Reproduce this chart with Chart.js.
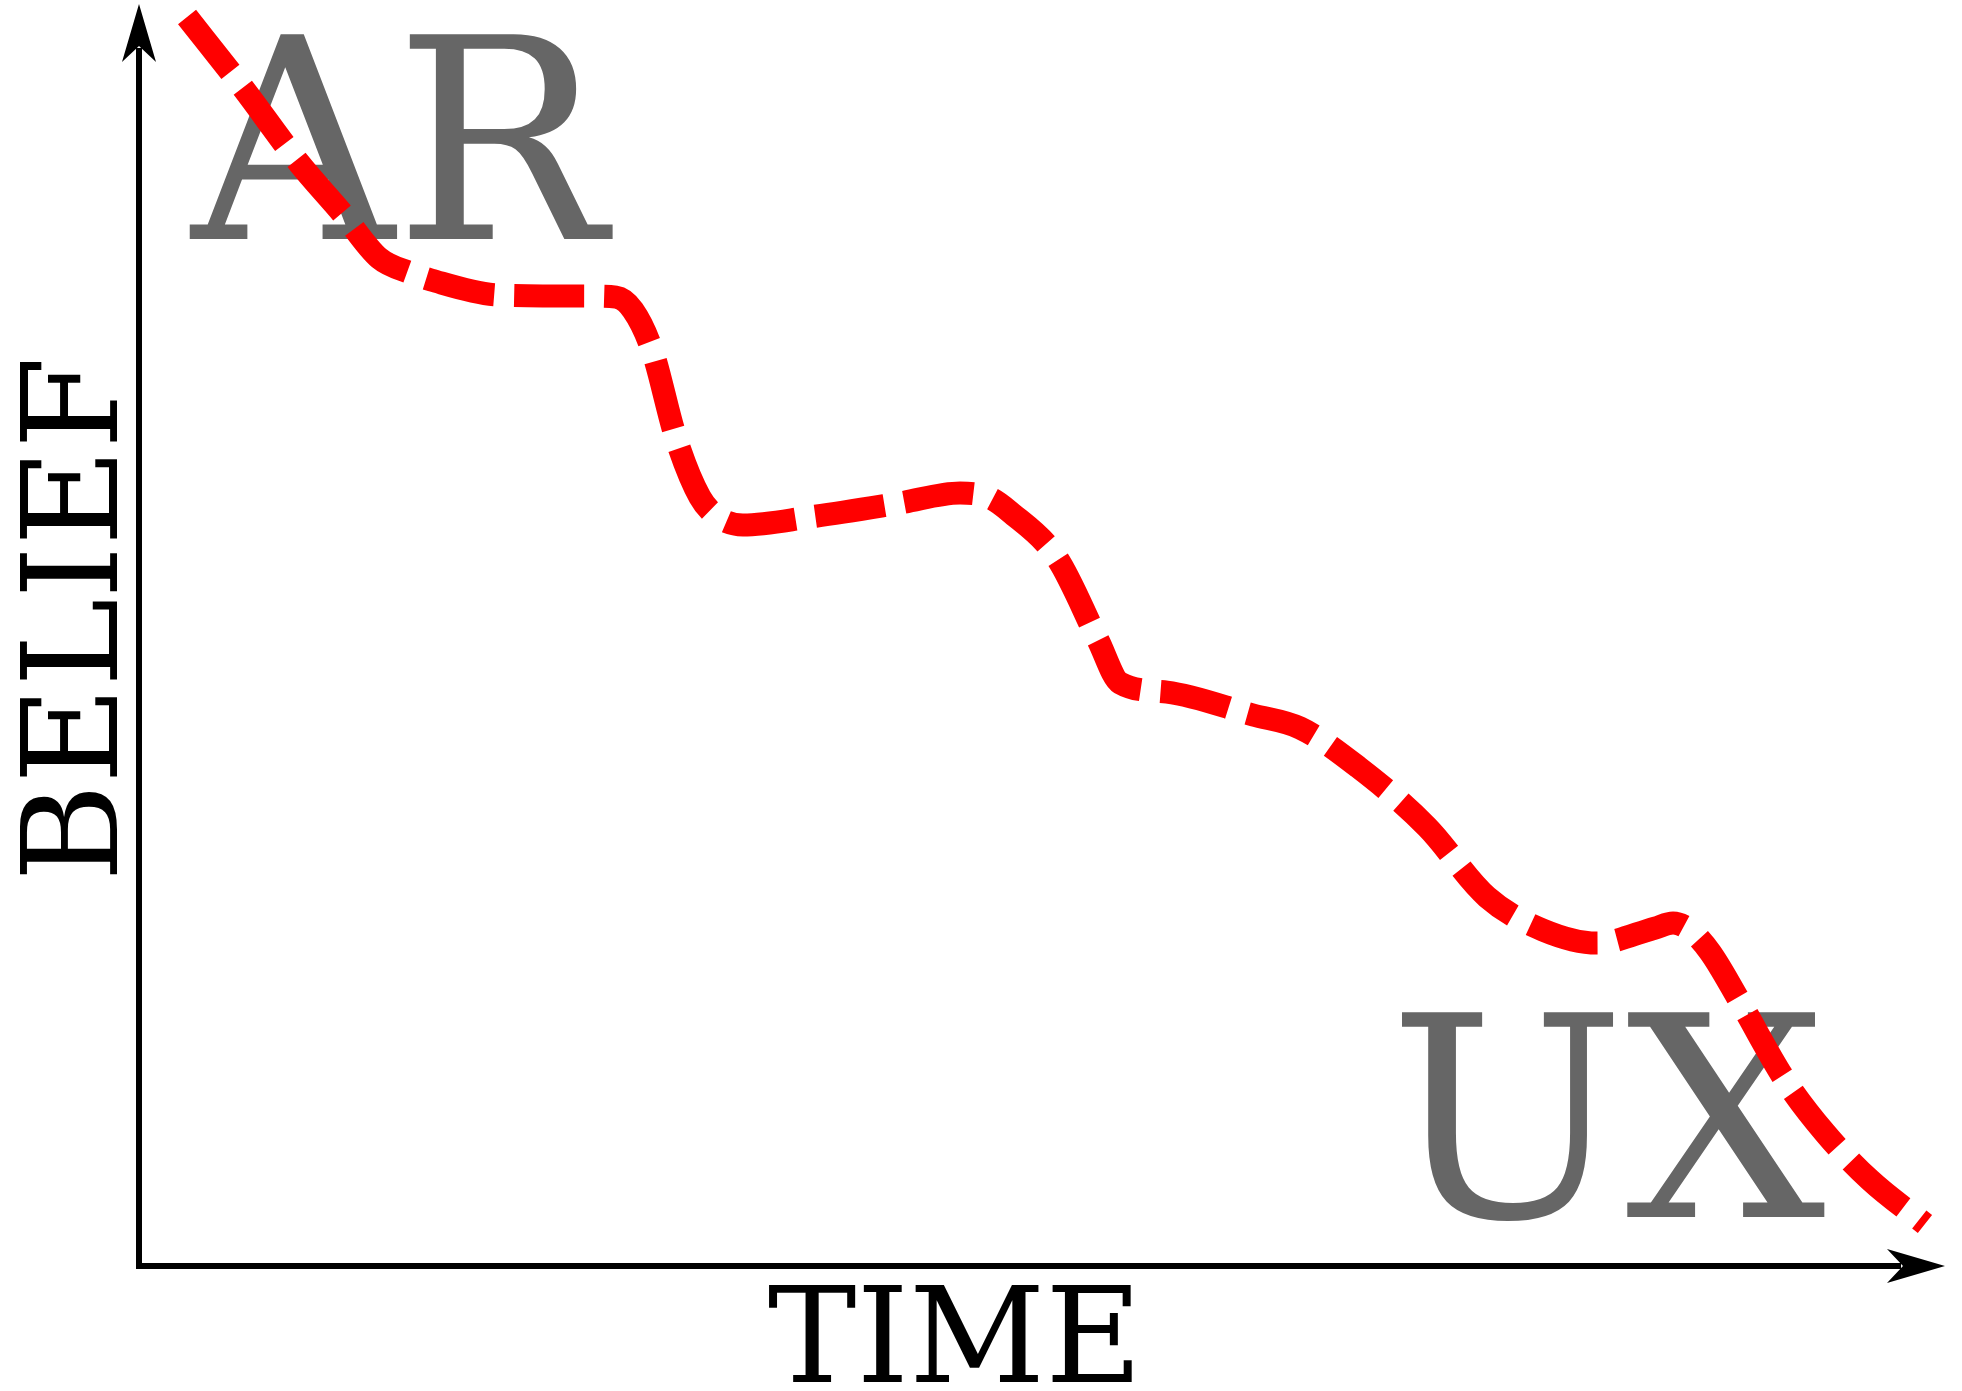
<!DOCTYPE html>
<html>
<head>
<meta charset="utf-8">
<title>Belief over time</title>
<script src="https://cdn.jsdelivr.net/npm/chart.js@4.4.1/dist/chart.umd.min.js"></script>
<style>
  html, body { margin: 0; padding: 0; background: #fff; }
  #wrap { width: 1962px; height: 1391px; }
</style>
</head>
<body>
<div id="wrap"><canvas id="beliefChart" width="1962" height="1391"></canvas></div>
<script>
// curve, both axes on a 0..100 scale
const timeValues = [2.66, 5.76, 8.86, 11.24, 13.29, 15.06, 16.17, 19.99, 25.14, 26.41,
  27.35, 28.41, 29.73, 31.06, 32.06, 33.44, 37.15, 42.14, 45.46, 47.12,
  48.23, 50.83, 53.10, 54.32, 56.92, 61.68, 64.29, 67.50, 71.32, 74.64,
  77.74, 80.73, 83.94, 84.94, 85.88, 86.99, 88.59, 91.14, 93.36, 95.85, 98.89];
const beliefValues = [98.97, 93.34, 87.40, 83.44, 79.87, 78.68, 78.13, 76.94, 76.86, 76.78,
  75.75, 72.58, 65.61, 60.93, 59.35, 58.72, 59.35, 60.46, 61.25, 60.86,
  59.75, 56.10, 49.60, 46.20, 45.48, 43.66, 42.63, 39.54, 34.79, 29.24,
  26.62, 25.59, 26.78, 27.18, 26.62, 24.88, 21.08, 14.74, 10.54, 6.81, 3.33];

const axisTitles = { x: 'TIME', y: 'BELIEF' };
const cornerLabels = ['AR', 'UX'];

const points = timeValues.map((t, i) => ({ x: t, y: beliefValues[i] }));

function arrowHead(ctx, tipX, tipY, dirX, dirY) {
  // swept-back arrow: 58 long, 17 half-width, notch 42 from tip
  const px = -dirY, py = dirX;
  ctx.beginPath();
  ctx.moveTo(tipX, tipY);
  ctx.lineTo(tipX - dirX * 58 + px * 17, tipY - dirY * 58 + py * 17);
  ctx.lineTo(tipX - dirX * 42, tipY - dirY * 42);
  ctx.lineTo(tipX - dirX * 58 - px * 17, tipY - dirY * 58 - py * 17);
  ctx.closePath();
  ctx.fill();
}

const decorPlugin = {
  id: 'decor',
  beforeDatasetsDraw(chart) {
    const ctx = chart.ctx;
    const xs = chart.scales.x, ys = chart.scales.y;
    const x0 = xs.getPixelForValue(0), x1 = xs.getPixelForValue(100);
    const y0 = ys.getPixelForValue(0), y1 = ys.getPixelForValue(100);
    ctx.save();

    // big grey labels sit under the curve
    ctx.fillStyle = '#666666';
    ctx.font = '281px "DejaVu Serif"';
    ctx.textBaseline = 'alphabetic';
    ctx.textAlign = 'left';
    let m = ctx.measureText(cornerLabels[0]);
    ctx.fillText(cornerLabels[0], 187 + m.actualBoundingBoxLeft, 239);
    m = ctx.measureText(cornerLabels[1]);
    ctx.fillText(cornerLabels[1], 1402 + m.actualBoundingBoxLeft, 1217);

    // axes with arrows
    ctx.strokeStyle = '#000';
    ctx.fillStyle = '#000';
    ctx.lineWidth = 6;
    ctx.beginPath();
    ctx.moveTo(x0, y0);
    ctx.lineTo(x0, y1 + 44);
    ctx.moveTo(x0 - 3, y0);
    ctx.lineTo(x1 - 44, y0);
    ctx.stroke();
    arrowHead(ctx, x0, y1, 0, -1);
    arrowHead(ctx, x1, y0, 1, 0);

    // axis titles
    ctx.font = '133px "DejaVu Serif"';
    ctx.textAlign = 'center';
    ctx.fillText(axisTitles.x, 955, 1382);
    ctx.translate(117, 619);
    ctx.rotate(-Math.PI / 2);
    ctx.fillText(axisTitles.y, 0, 0);
    ctx.restore();
  }
};

new Chart(document.getElementById('beliefChart').getContext('2d'), {
  type: 'line',
  data: {
    datasets: [{
      data: points,
      borderColor: '#ff0000',
      borderWidth: 23,
      borderDash: [70, 20],
      borderCapStyle: 'butt',
      borderJoinStyle: 'round',
      cubicInterpolationMode: 'monotone',
      pointRadius: 0,
      fill: false,
      clip: false
    }]
  },
  options: {
    responsive: false,
    animation: false,
    devicePixelRatio: 1,
    layout: { padding: { left: 139, right: 17, top: 4, bottom: 125 } },
    plugins: { legend: { display: false }, tooltip: { enabled: false } },
    scales: {
      x: { type: 'linear', min: 0, max: 100, display: false },
      y: { type: 'linear', min: 0, max: 100, display: false }
    }
  },
  plugins: [decorPlugin]
});
</script>
</body>
</html>
